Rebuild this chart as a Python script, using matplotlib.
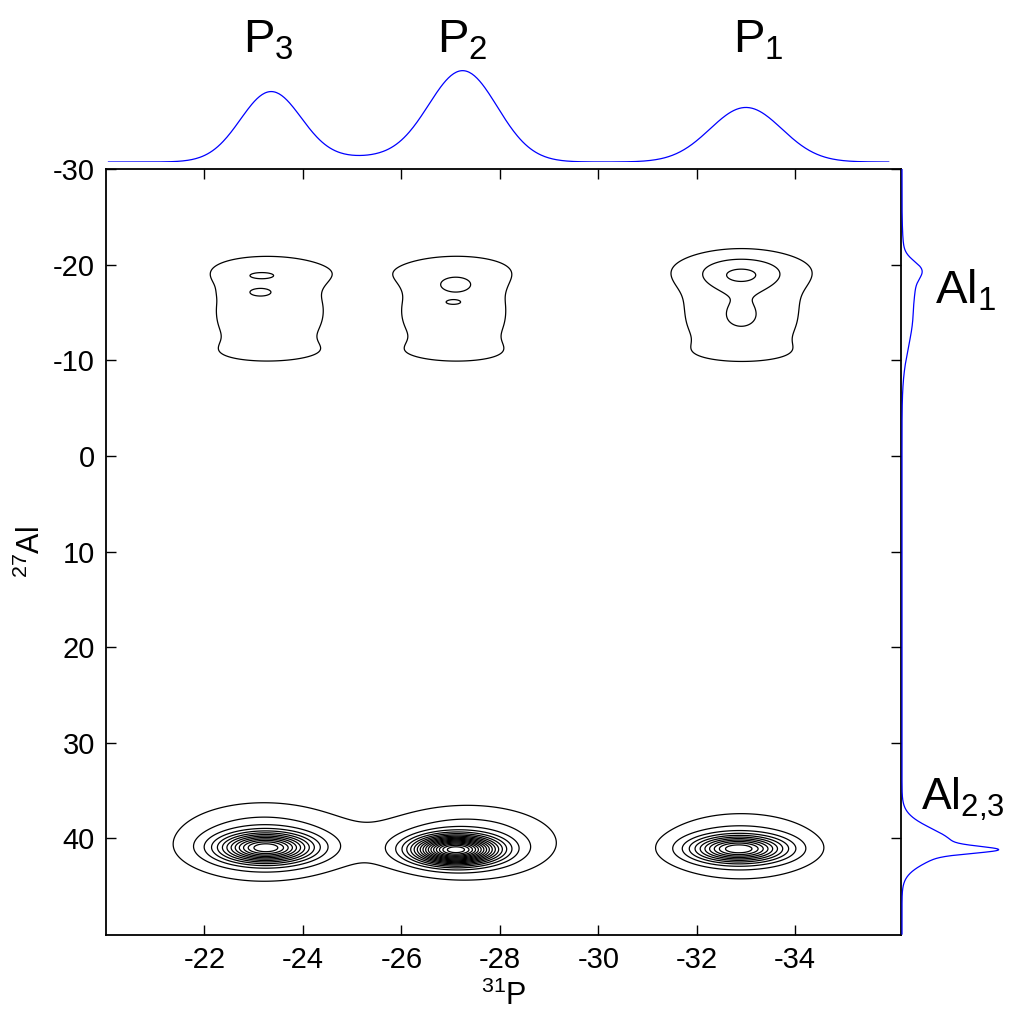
import numpy as np
import matplotlib.pyplot as plt

plt.rcParams['font.family'] = ['Liberation Sans', 'DejaVu Sans']
plt.rcParams['mathtext.fontset'] = 'custom'
plt.rcParams['mathtext.rm'] = 'Liberation Sans'
plt.rcParams['mathtext.it'] = 'Liberation Sans:italic'
plt.rcParams['mathtext.default'] = 'regular'
plt.rcParams['axes.unicode_minus'] = False

# 2D cross peaks (ppm), height in contour steps
# Al2,3 row (base + core for P3, P2, P1)
al23_p = [-23.20, -23.25, -27.35, -27.10, -32.90, -32.85]
al23_al = [40.35, 41.0, 40.4, 41.2, 40.8, 41.1]
al23_wp = [1.20, 0.60, 1.20, 0.55, 1.15, 0.60]
al23_wal = [2.75, 1.0, 2.6, 0.95, 2.5, 0.9]
al23_amp = [3.0, 11.0, 3.0, 16.0, 2.5, 9.5]

# Al1 row: broad plateau pieces under P3, P2, P1
al1_p = [-23.25]*4 + [-27.15]*4 + [-32.92]*4
al1_al = [-19.5, -16.0, -13.0, -10.5]*3
al1_wp = [1.25]*4 + [1.20]*4 + [1.30]*4
al1_wal = [1.7, 1.7, 1.7, 1.2]*3
al1_amp = [1.35, 1.0, 1.0, 0.9]*3

# Al1 row: small maxima on top of the plateau
top_p = [-23.15, -23.12, -27.10, -27.05, -32.90, -32.90, -32.90]
top_al = [-18.85, -17.1, -17.8, -16.05, -19.3, -14.5, -18.8]
top_wp = [0.28, 0.32, 0.38, 0.20, 0.78, 0.50, 0.45]
top_wal = [0.35, 0.55, 0.85, 0.30, 1.8, 1.8, 0.9]
top_amp = [0.75, 0.82, 0.85, 0.70, 0.95, 0.75, 0.80]

# 31P projection (top)
proj_p_center = [-23.35, -27.25, -33.0, -25.3]
proj_p_width = [0.62, 0.70, 0.73, 0.9]
proj_p_height = [0.77, 1.0, 0.60, 0.05]

# 27Al projection (right)
proj_al_center = [-19.5, -17.8, -15.0, 40.6, 41.2]
proj_al_width = [0.9, 1.2, 3.5, 1.6, 0.35]
proj_al_height = [0.135, 0.04, 0.11, 0.5, 0.5]

xticks = [-22, -24, -26, -28, -30, -32, -34]
yticks = [-30, -20, -10, 0, 10, 20, 30, 40]
levels = np.arange(1, 20)

W, H = 1010, 1015
fig = plt.figure(figsize=(W/100, H/100), dpi=100)
ax = fig.add_axes([106/W, 80/H, 795/W, 766/H])
ax_top = fig.add_axes([106/W, (H-162)/H, 795/W, 100/H])
ax_right = fig.add_axes([897/W, 80/H, 110/W, 766/H])

# build the 2D map from the peak lists
x = np.linspace(-20, -36.2, 500)
y = np.linspace(-30, 50.2, 900)
X, Y = np.meshgrid(x, y)
Z = np.zeros_like(X)
for group in [(al23_p, al23_al, al23_wp, al23_wal, al23_amp),
              (al1_p, al1_al, al1_wp, al1_wal, al1_amp),
              (top_p, top_al, top_wp, top_wal, top_amp)]:
    for p0, a0, wp, wa, amp in zip(*group):
        Z += amp*np.exp(-(X-p0)**2/(2*wp**2) - (Y-a0)**2/(2*wa**2))

ax.contour(X, Y, Z, levels=levels, colors='k', linewidths=0.9)
ax.set_xlim(-20, -36.15)
ax.set_ylim(50.1, -30)
ax.set_xticks(xticks)
ax.set_yticks(yticks)
ax.tick_params(direction='in', top=True, right=True, length=7, width=1,
               labelsize=21, pad=8)
for s in ax.spines.values():
    s.set_linewidth(1.3)
ax.set_xlabel(r'$^{31}$P', fontsize=22, labelpad=5)
ax.set_ylabel(r'$^{27}$Al', fontsize=22, labelpad=4)

# top projection
xp = np.linspace(-20.05, -35.9, 600)
top = np.zeros_like(xp)
for c, w, h in zip(proj_p_center, proj_p_width, proj_p_height):
    top += h*np.exp(-(xp-c)**2/(2*w**2))
ax_top.plot(xp, top, color='#0000ff', lw=0.9)
ax_top.set_xlim(-20, -36.15)
ax_top.set_ylim(0, 1.1)
ax_top.axis('off')

# right projection
ya = np.linspace(-30, 50, 1600)
side = np.zeros_like(ya)
for c, w, h in zip(proj_al_center, proj_al_width, proj_al_height):
    side += h*np.exp(-(ya-c)**2/(2*w**2))
ax_right.plot(side, ya, color='#0000ff', lw=0.9)
ax_right.set_xlim(-0.05, 1.05)
ax_right.set_ylim(50.1, -30)
ax_right.axis('off')
ax_right.patch.set_alpha(0)

# peak labels
fs = 34
fig.text(268/W, 1-53/H, r'P$_3$', ha='center', va='baseline', fontsize=fs)
fig.text(462/W, 1-53/H, r'P$_2$', ha='center', va='baseline', fontsize=fs)
fig.text(758/W, 1-53/H, r'P$_1$', ha='center', va='baseline', fontsize=fs)
fig.text(935/W, 1-303/H, r'Al$_1$', ha='left', va='baseline', fontsize=fs)
fig.text(921/W, 1-810/H, r'Al$_{2{,}3}$', ha='left', va='baseline', fontsize=32)

fig.savefig('out.png', dpi=100)
